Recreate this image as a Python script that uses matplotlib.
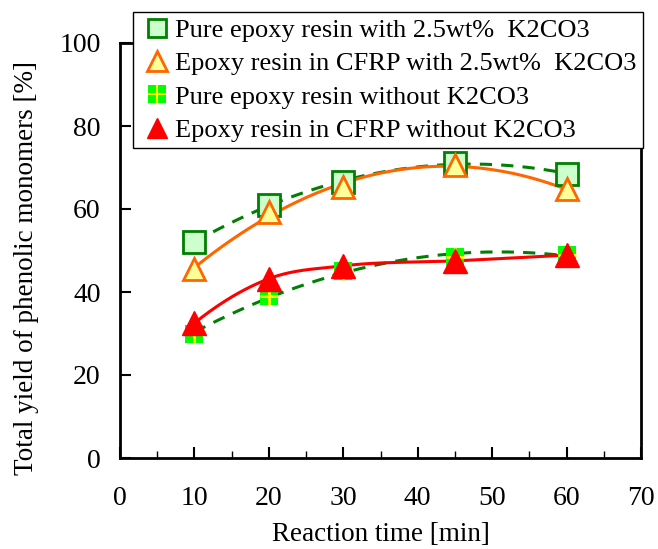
import numpy as np
import matplotlib
matplotlib.use("Agg")
import matplotlib.pyplot as plt
from matplotlib.legend_handler import HandlerTuple
from matplotlib.lines import Line2D

time_min = [10, 20, 30, 45, 60]
pure_with = [52, 61, 66.5, 71, 68.5]
cfrp_with = [45.5, 59.3, 65.3, 70.5, 64.7]
pure_without = [30, 39, 45, 48.5, 49]
cfrp_without = [32.5, 43.2, 46.3, 47.5, 48.9]

plt.rcParams['font.family'] = ['Liberation Serif', 'DejaVu Serif']

fig = plt.figure(figsize=(6.58, 5.49), dpi=100)
ax = fig.add_axes([120/658, 1-458/549, (641-120)/658, (458-43)/549])

t = np.array(time_min, float)
tt = np.linspace(10, 60, 200)

DG = '#008000'
OR = '#ff6600'

def fit(y, deg):
    return np.polyval(np.polyfit(t, np.array(y, float), deg), tt)

def smooth(x, y, n=50):
    # cubic Hermite through the points, three-point derivatives
    x = np.asarray(x, float); y = np.asarray(y, float)
    h = np.diff(x); d = np.diff(y) / h
    m = np.empty_like(y)
    m[1:-1] = (h[1:] * d[:-1] + h[:-1] * d[1:]) / (h[:-1] + h[1:])
    m[0] = ((2*h[0] + h[1]) * d[0] - h[0] * d[1]) / (h[0] + h[1])
    m[-1] = ((2*h[-1] + h[-2]) * d[-1] - h[-1] * d[-2]) / (h[-1] + h[-2])
    xs, ys = [], []
    for i in range(len(x) - 1):
        s = np.linspace(0, 1, n)
        h00 = 2*s**3 - 3*s**2 + 1
        h10 = s**3 - 2*s**2 + s
        h01 = -2*s**3 + 3*s**2
        h11 = s**3 - s**2
        xs.append(x[i] + s*h[i])
        ys.append(h00*y[i] + h10*h[i]*m[i] + h01*y[i+1] + h11*h[i]*m[i+1])
    return np.concatenate(xs), np.concatenate(ys)

ax.plot(tt, fit(pure_with, 2), ls=(0, (4, 3)), color=DG, lw=2.2, zorder=2)
ax.plot(tt, fit(cfrp_with, 2), color=OR, lw=2.2, zorder=2)
ax.plot(tt, fit(pure_without, 2), ls=(0, (4, 3)), color=DG, lw=2.2, zorder=2)
sx, sy = smooth(time_min, cfrp_without)
ax.plot(sx, sy, color='#ff0000', lw=2.2, zorder=2)

ms = 16
ax.plot(t, pure_with, ls='none', marker='s', ms=ms, mfc='#ccffcc', mec=DG, mew=2, zorder=3)
ax.plot(t, cfrp_with, ls='none', marker='^', ms=ms, mfc='#ffff99', mec=OR, mew=2, zorder=4)
ax.plot(t, pure_without, ls='none', marker='s', ms=12.5, mfc='#00ff00', mec='#00ff00', mew=0, zorder=3)
ax.plot(t, pure_without, ls='none', marker='+', ms=12.5, mec='#ffff00', mew=2, zorder=3.5)
ax.plot(t, cfrp_without, ls='none', marker='^', ms=17, mfc='#ff0000', mec='#ff0000', mew=1, zorder=5)

ax.set_xlim(0, 70)
ax.set_ylim(0, 100)
ax.set_xticks(range(0, 71, 10))
ax.set_xticks(range(5, 70, 10), minor=True)
ax.set_yticks(range(0, 101, 20))
ax.tick_params(axis='both', which='both', direction='in', top=False, right=False, labelsize=20)
ax.tick_params(axis='x', which='major', length=8, width=1.5, pad=20)
ax.tick_params(axis='x', which='minor', length=5, width=1)
ax.tick_params(axis='y', which='major', length=8, width=1.5, pad=14)
for s in ax.spines.values():
    s.set_linewidth(2)

ax.set_xlabel('Reaction time [min]', fontsize=19.5, labelpad=8)
ax.set_ylabel('Total yield of phenolic monomers [%]', fontsize=19.5)
ax.yaxis.set_label_coords(-0.155, 0.458)

h1 = Line2D([], [], ls='none', marker='s', ms=13, mfc='#ccffcc', mec=DG, mew=2)
h2 = Line2D([], [], ls='none', marker='^', ms=14, mfc='#ffff99', mec=OR, mew=2)
h3a = Line2D([], [], ls='none', marker='s', ms=13, mfc='#00ff00', mec='#00ff00', mew=0)
h3b = Line2D([], [], ls='none', marker='+', ms=13, mec='#ffff00', mew=1.5)
h4 = Line2D([], [], ls='none', marker='^', ms=14, mfc='#ff0000', mec='#ff0000')
leg = fig.legend([h1, h2, (h3a, h3b), h4],
                 ['Pure epoxy resin with 2.5wt%  K2CO3',
                  'Epoxy resin in CFRP with 2.5wt%  K2CO3',
                  'Pure epoxy resin without K2CO3',
                  'Epoxy resin in CFRP without K2CO3'],
                 handler_map={tuple: HandlerTuple(ndivide=1)},
                 loc='upper right', bbox_to_anchor=(643/658, 1-12/549),
                 bbox_transform=fig.transFigure, fontsize=19, frameon=True,
                 fancybox=False, edgecolor='black', framealpha=1,
                 handlelength=1.3, handletextpad=0.05, labelspacing=0.37,
                 borderpad=0.25, borderaxespad=0)
leg.get_frame().set_linewidth(1)

fig.savefig('out.png', dpi=100)
